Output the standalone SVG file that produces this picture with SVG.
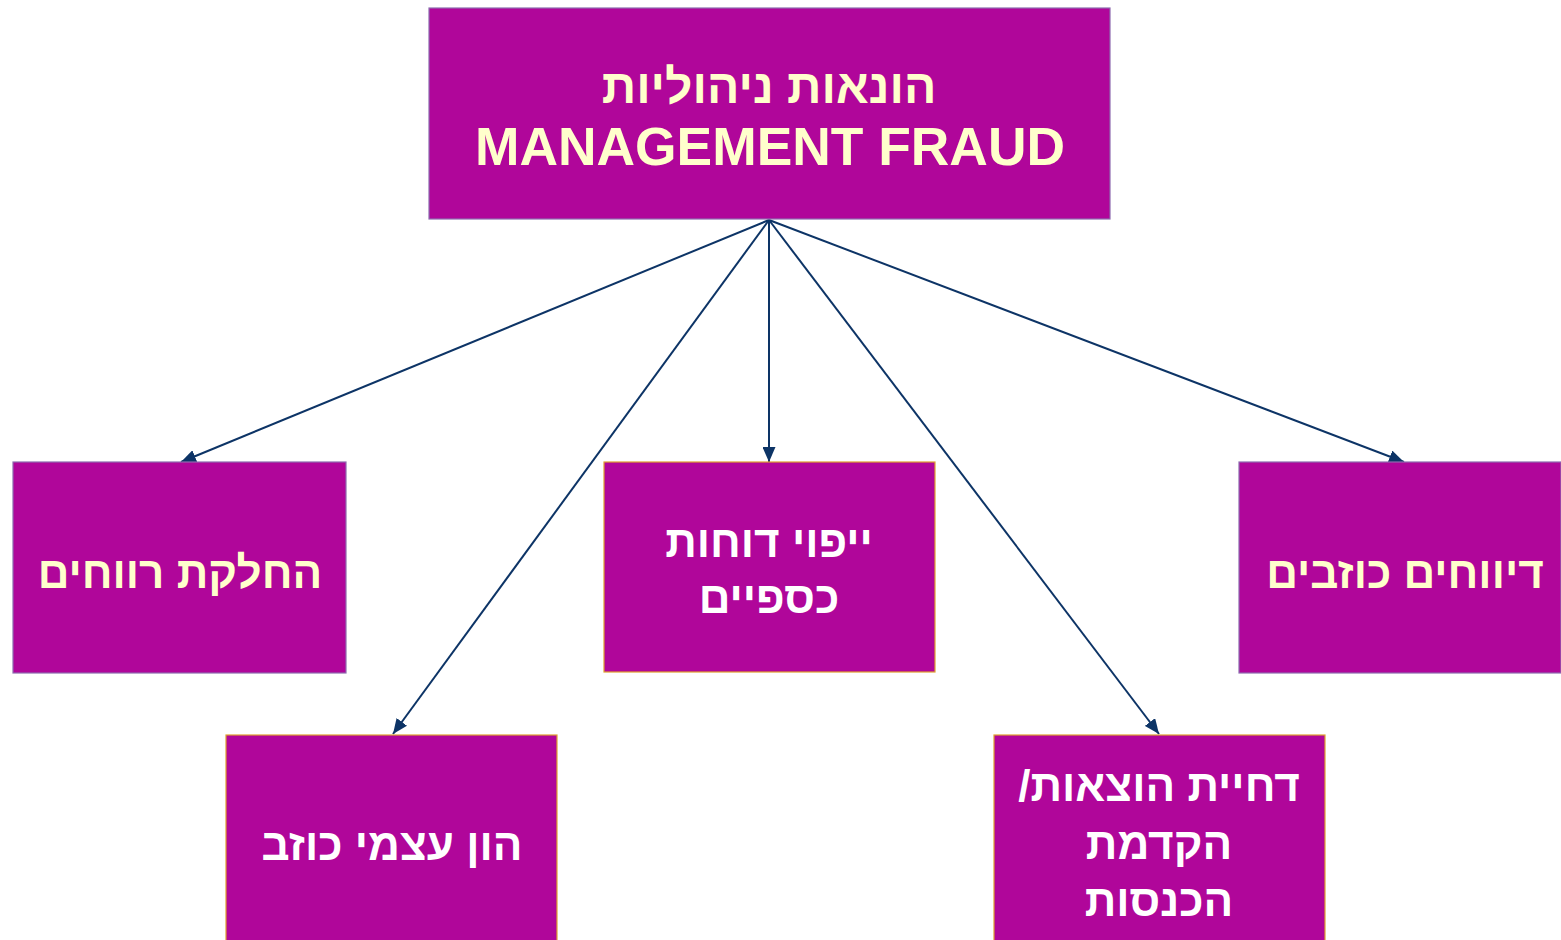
<svg xmlns="http://www.w3.org/2000/svg" width="1561" height="940" viewBox="0 0 1561 940">
<style>
.box{fill:#B0069A;stroke-width:1.2}
.bp{stroke:#8E6CB0}
.bo{stroke:#E0A030}
.t{font-family:"Liberation Sans","DejaVu Sans",sans-serif;font-weight:bold;text-anchor:middle}
.h{font-size:44px}
.y{fill:#FFFFCC}
.w{fill:#FFFFFF}
.c{stroke:#0D3466;stroke-width:2;fill:none}
</style>
<defs>
<marker id="ah" viewBox="0 0 10 10" refX="10" refY="5" markerWidth="7.5" markerHeight="6.5" orient="auto" markerUnits="strokeWidth" preserveAspectRatio="none">
<path d="M0,0 L10,5 L0,10 z" fill="#0D3466"/>
</marker>
</defs>
<rect width="1561" height="940" fill="#FFFFFF"/>
<g id="connectors">
<line class="c" x1="769" y1="220" x2="181" y2="462" marker-end="url(#ah)"/>
<line class="c" x1="769" y1="220" x2="393" y2="734" marker-end="url(#ah)"/>
<line class="c" x1="769" y1="220" x2="769" y2="462" marker-end="url(#ah)"/>
<line class="c" x1="769" y1="220" x2="1159" y2="734" marker-end="url(#ah)"/>
<line class="c" x1="769" y1="220" x2="1404" y2="462" marker-end="url(#ah)"/>
</g>
<g id="top">
<rect class="box bp" x="429" y="8" width="681" height="211"/>
<text class="t y" x="769" y="103" font-size="48">הונאות ניהוליות</text>
<text class="t y" x="770" y="165" font-size="54" textLength="590" lengthAdjust="spacingAndGlyphs">MANAGEMENT FRAUD</text>
</g>
<g id="left">
<rect class="box bp" x="13" y="462" width="333" height="211"/>
<text class="t h y" x="180" y="588">החלקת רווחים</text>
</g>
<g id="middle">
<rect class="box bo" x="604" y="462" width="331" height="210"/>
<text class="t h w" x="769" y="557">ייפוי דוחות</text>
<text class="t h w" x="769" y="613">כספיים</text>
</g>
<g id="right">
<rect class="box bp" x="1239" y="462" width="322" height="211"/>
<text class="t h y" x="1405" y="588">דיווחים כוזבים</text>
</g>
<g id="bottomleft">
<rect class="box bo" x="226" y="735" width="331" height="206"/>
<text class="t h w" x="392" y="860">הון עצמי כוזב</text>
</g>
<g id="bottomright">
<rect class="box bo" x="994" y="735" width="331" height="206"/>
<text class="t h w" x="1159" y="801" direction="rtl" unicode-bidi="embed">דחיית הוצאות/</text>
<text class="t h w" x="1159" y="859">הקדמת</text>
<text class="t h w" x="1159" y="916">הכנסות</text>
</g>
</svg>
